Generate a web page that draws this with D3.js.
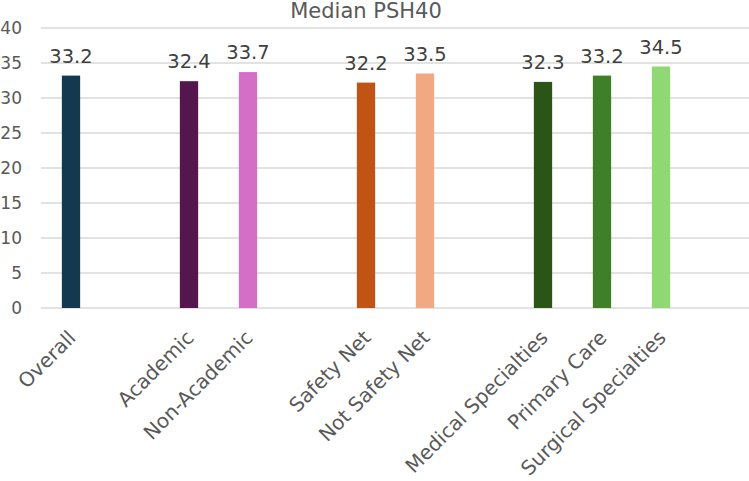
<!DOCTYPE html>
<html><head><meta charset="utf-8">
<script src="https://cdn.jsdelivr.net/npm/d3@7"></script>
<style>body{margin:0;background:#fff;} text{font-family:"DejaVu Sans","Liberation Sans",sans-serif;}</style>
</head><body><svg id="c" width="749" height="481"></svg>
<script>
const slots = ["Overall","g1","Academic","Non-Academic","g2","Safety Net","Not Safety Net","g3","Medical Specialties","Primary Care","Surgical Specialties","g4"];
const categories = ["Overall","Academic","Non-Academic","Safety Net","Not Safety Net","Medical Specialties","Primary Care","Surgical Specialties"];
const values = [33.2,32.4,33.7,32.2,33.5,32.3,33.2,34.5];
const colors = ["#12394f","#55164d","#d46fc8","#c05415","#f2a882","#2a5517","#3f7f27","#8fd873"];
const yTicks = [0,5,10,15,20,25,30,35,40];
const title = "Median PSH40";

const svg = d3.select("#c");
const x = d3.scaleBand().domain(slots).range([41.5,749.5]).paddingInner(0.69).paddingOuter(0.345);
const y = d3.scaleLinear().domain([0,40]).range([308,28]);

svg.append("g").selectAll("line").data(yTicks).join("line")
  .attr("x1",41).attr("x2",749).attr("y1",d=>y(d)).attr("y2",d=>y(d))
  .attr("stroke","#d9d9d9").attr("stroke-width",1.3);
svg.append("g").selectAll("text").data(yTicks).join("text")
  .attr("x",22).attr("y",d=>y(d)).attr("dy","0.36em").attr("text-anchor","end")
  .attr("font-size",17).attr("fill","#595959").text(d=>d);

const data = categories.map((c,i)=>({c,v:values[i],col:colors[i]}));
svg.append("g").selectAll("rect").data(data).join("rect")
  .attr("x",d=>x(d.c)).attr("width",x.bandwidth())
  .attr("y",d=>y(d.v)).attr("height",d=>y(0)-y(d.v)).attr("fill",d=>d.col);
svg.append("g").selectAll("text").data(data).join("text")
  .attr("x",d=>x(d.c)+x.bandwidth()/2).attr("y",d=>y(d.v)-13)
  .attr("text-anchor","middle").attr("font-size",19.5).attr("fill","#404040").text(d=>d.v.toFixed(1));
svg.append("g").selectAll("text").data(categories).join("text")
  .attr("transform",d=>`translate(${x(d)+x.bandwidth()/2+6},339) rotate(-45)`)
  .attr("text-anchor","end").attr("font-size",20).attr("fill","#595959").text(d=>d);
svg.append("text").attr("x",366).attr("y",18).attr("text-anchor","middle")
  .attr("font-size",21).attr("fill","#595959").text(title);
</script></body></html>
